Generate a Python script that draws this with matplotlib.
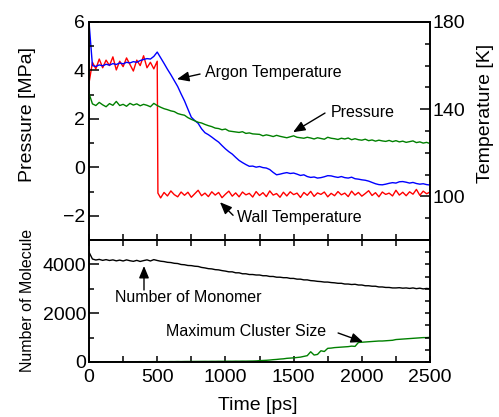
import matplotlib
matplotlib.use("Agg")
import matplotlib.pyplot as plt
from matplotlib.ticker import MultipleLocator, FixedLocator, NullFormatter

plt.rcParams['font.family'] = ['Liberation Sans', 'DejaVu Sans']

# ---- data ----
t25 = list(range(0, 2501, 25))

# argon temperature [K]
argon_T = [180.0, 160.0, 159.6, 160.3, 159.9, 160.6, 160.2, 160.9, 160.5, 161.2,
           160.8, 161.5, 161.2, 161.8, 161.5, 162.3, 162.8, 163.2, 163.0, 164.2,
           166.2, 163.6, 161.0, 158.3, 155.8, 153.1, 150.4, 147.0, 143.8, 140.0,
           136.3, 134.8, 133.5, 131.0, 129.2, 128.3, 127.2, 126.0, 124.9, 123.3,
           121.8, 120.5, 119.4, 117.9, 116.5, 115.5, 114.6, 113.8, 113.9, 113.4,
           113.7, 113.2, 113.0, 112.3, 111.0, 109.9, 110.2, 110.6, 110.9, 110.5,
           110.7, 110.2, 109.6, 109.9, 109.1, 108.7, 108.9, 108.4, 108.6, 109.0,
           109.5, 109.4, 109.0, 108.7, 109.1, 108.6, 108.4, 108.8, 108.1, 107.9,
           107.6, 107.4, 107.0, 106.4, 105.8, 105.4, 105.3, 105.6, 106.0, 106.3,
           106.1, 106.7, 106.8, 106.5, 106.1, 106.4, 105.9, 105.6, 105.8, 105.4,
           105.2]

# pressure [MPa]
pressure = [3.05, 2.62, 2.55, 2.68, 2.58, 2.50, 2.63, 2.56, 2.72, 2.55,
            2.60, 2.52, 2.64, 2.57, 2.62, 2.54, 2.60, 2.56, 2.50, 2.64,
            2.55, 2.48, 2.42, 2.38, 2.33, 2.30, 2.22, 2.18, 2.15, 2.05,
            1.98, 1.92, 1.86, 1.83, 1.77, 1.72, 1.68, 1.62, 1.60, 1.55,
            1.58, 1.50, 1.48, 1.46, 1.44, 1.47, 1.40, 1.42, 1.38, 1.37,
            1.36, 1.30, 1.34, 1.31, 1.27, 1.32, 1.28, 1.25, 1.22, 1.26,
            1.30, 1.24, 1.22, 1.20, 1.24, 1.21, 1.17, 1.22, 1.19, 1.16,
            1.24, 1.20, 1.18, 1.15, 1.20, 1.17, 1.21, 1.14, 1.18, 1.14,
            1.12, 1.16, 1.10, 1.13, 1.08, 1.12, 1.09, 1.07, 1.11, 1.06,
            1.10, 1.05, 1.08, 1.03, 1.06, 1.09, 1.02, 1.05, 1.00, 1.03,
            0.98]

# wall temperature [K]
wall_t = list(range(0, 501, 25)) + [505] + list(range(525, 2501, 25))
wall_T = [152.0, 161.5, 158.5, 163.0, 159.0, 162.5, 160.0, 164.0, 158.0, 162.0,
          159.5, 163.5, 160.5, 157.5, 162.5, 160.0, 164.5, 159.0, 161.5, 158.5,
          162.0,
          101.5,
          99.3, 101.8, 100.2, 102.5, 100.8, 99.8, 102.0, 100.5, 101.9, 99.6,
          101.2, 102.8, 100.3, 101.5, 99.9, 102.1, 100.6, 101.8, 99.4, 101.0,
          102.4, 100.1, 101.6, 99.8, 102.0, 100.7, 101.4, 99.7, 102.2, 100.4,
          101.7, 99.9, 102.5, 100.6, 101.3, 99.6, 101.9, 100.2, 102.1, 100.8,
          101.5, 99.5, 101.8, 100.5, 102.3, 100.0, 101.6, 100.9, 102.0, 99.8,
          101.4, 100.3, 102.2, 100.7, 101.5, 99.9, 102.4, 100.6, 101.8, 100.1,
          101.3, 102.6, 100.4, 101.7, 99.8, 102.0, 100.9, 101.5, 100.2, 102.8,
          100.6, 101.9, 100.3, 102.1, 101.0, 103.2, 100.5, 102.4, 101.2, 102.0]

# number of monomers
monomer = [4500, 4220, 4180, 4205, 4165, 4195, 4160, 4185, 4145, 4175,
           4140, 4185, 4150, 4125, 4165, 4120, 4155, 4185, 4140, 4195,
           4160, 4130, 4115, 4085, 4075, 4045, 4035, 3995, 3985, 3955,
           3950, 3925, 3915, 3875, 3855, 3825, 3815, 3785, 3775, 3745,
           3725, 3695, 3695, 3655, 3655, 3615, 3615, 3585, 3585, 3565,
           3565, 3535, 3535, 3505, 3505, 3475, 3475, 3455, 3455, 3425,
           3425, 3395, 3395, 3365, 3365, 3335, 3325, 3305, 3295, 3275,
           3275, 3255, 3245, 3225, 3225, 3195, 3195, 3175, 3185, 3155,
           3155, 3125, 3125, 3105, 3105, 3075, 3075, 3055, 3055, 3035,
           3035, 3045, 3025, 3035, 3015, 3035, 3005, 3025, 2995, 3015,
           3000]

# maximum cluster size
cluster = [0, 5, 5, 8, 6, 8, 7, 10, 8, 10,
           9, 12, 10, 12, 11, 14, 12, 14, 13, 15,
           14, 15, 16, 15, 18, 17, 20, 18, 21, 22,
           22, 23, 24, 25, 26, 25, 28, 27, 30, 29,
           30, 32, 31, 34, 33, 36, 35, 38, 40, 45,
           55, 62, 70, 80, 95, 105, 120, 130, 150, 160,
           170, 185, 200, 230, 260, 420, 285, 310, 460, 430,
           560, 570, 590, 600, 610, 620, 630, 650, 640, 800,
           810, 820, 830, 840, 850, 860, 860, 870, 880, 890,
           920, 930, 940, 950, 960, 970, 980, 990, 1000, 1000,
           1010]

temp_ticks = [100, 140, 180]

# ---- figure ----
fig = plt.figure(figsize=(4.99, 4.17), dpi=100)
ax = fig.add_axes([0.1784, 0.4245, 0.6834, 0.5228])
ax_t = ax.twinx()
axb = fig.add_axes([0.1784, 0.1319, 0.6834, 0.2926])
axb_r = axb.twinx()

lw_sp = 1.2
for a in (ax, ax_t, axb, axb_r):
    for s in a.spines.values():
        s.set_linewidth(lw_sp)

ax_t.plot(wall_t, wall_T, color='#ff0000', lw=1.0)
ax_t.plot(t25, argon_T, color='#0000ff', lw=1.0)
ax.plot(t25, pressure, color='#008000', lw=1.0)
ax.set_zorder(ax_t.get_zorder() + 1)
ax.patch.set_visible(False)

ax.set_xlim(0, 2500)
ax.set_ylim(-3, 6)
ax_t.set_ylim(80, 180)
ax.yaxis.set_major_locator(MultipleLocator(2))
ax.yaxis.set_minor_locator(MultipleLocator(1))
ax_t.yaxis.set_major_locator(FixedLocator(temp_ticks))
ax_t.yaxis.set_minor_locator(MultipleLocator(10))
ax.xaxis.set_major_locator(MultipleLocator(500))
ax.xaxis.set_minor_locator(MultipleLocator(250))
ax.xaxis.set_major_formatter(NullFormatter())

ax.tick_params(axis='y', which='major', direction='in', length=7, width=1.1, labelsize=14, pad=3)
ax.tick_params(axis='y', which='minor', direction='in', length=3.5, width=1.1)
ax.tick_params(axis='x', which='both', direction='in', length=4, width=1.1, top=False)
ax_t.tick_params(axis='y', which='major', direction='in', length=7, width=1.1, labelsize=14, pad=2)
ax_t.tick_params(axis='y', which='minor', direction='in', length=3.5, width=1.1)

axb.plot(t25, monomer, color='black', lw=1.0)
axb.plot(t25, cluster, color='#008000', lw=1.0)
axb.set_xlim(0, 2500)
axb.set_ylim(0, 5000)
axb_r.set_ylim(0, 5000)
axb.yaxis.set_major_locator(MultipleLocator(2000))
axb.yaxis.set_minor_locator(MultipleLocator(1000))
axb.xaxis.set_major_locator(MultipleLocator(500))
axb.xaxis.set_minor_locator(MultipleLocator(250))
axb.tick_params(axis='y', which='major', direction='in', length=7, width=1.1, labelsize=14, pad=2)
axb.tick_params(axis='y', which='minor', direction='in', length=3.5, width=1.1)
axb.tick_params(axis='x', which='both', direction='in', length=4, width=1.1, top=True, labelsize=14, pad=5)
axb_r.yaxis.set_major_locator(MultipleLocator(500))
axb_r.yaxis.set_major_formatter(NullFormatter())
axb_r.tick_params(axis='y', which='major', direction='in', length=3.5, width=1.1)

# axis labels
fig.text(27 / 499, 1 - 115 / 417, 'Pressure [MPa]', rotation=90, ha='center', va='center', fontsize=14)
fig.text(485 / 499, 1 - 113 / 417, 'Temperature [K]', rotation=90, ha='center', va='center', fontsize=14)
fig.text(28 / 499, 1 - 300 / 417, 'Number of Molecule', rotation=90, ha='center', va='center', fontsize=11.5)
fig.text(258 / 499, 1 - 406 / 417, 'Time [ps]', ha='center', va='center', fontsize=14)

# annotations
arw = dict(arrowstyle='-|>,head_length=0.6,head_width=0.25', color='black', lw=1.0,
           shrinkA=0, shrinkB=0, mutation_scale=12)
fs = 11.5
ax.text(850, 3.9, 'Argon Temperature', fontsize=fs, ha='left', va='center')
ax.annotate('', xy=(645, 3.64), xytext=(814, 3.85), arrowprops=arw)
ax.text(1774, 2.28, 'Pressure', fontsize=fs, ha='left', va='center')
ax.annotate('', xy=(1496, 1.45), xytext=(1730, 2.24), arrowprops=arw)
ax.text(1085, -2.06, 'Wall Temperature', fontsize=fs, ha='left', va='center')
ax.annotate('', xy=(960, -1.44), xytext=(1056, -1.98), arrowprops=arw)

axb.text(191, 2623, 'Number of Monomer', fontsize=fs, ha='left', va='center')
axb.annotate('', xy=(403, 3934), xytext=(403, 2951), arrowprops=arw)
axb.text(565, 1230, 'Maximum Cluster Size', fontsize=fs, ha='left', va='center')
axb.annotate('', xy=(2009, 820), xytext=(1826, 1189), arrowprops=arw)

fig.savefig('out.png', dpi=100)
